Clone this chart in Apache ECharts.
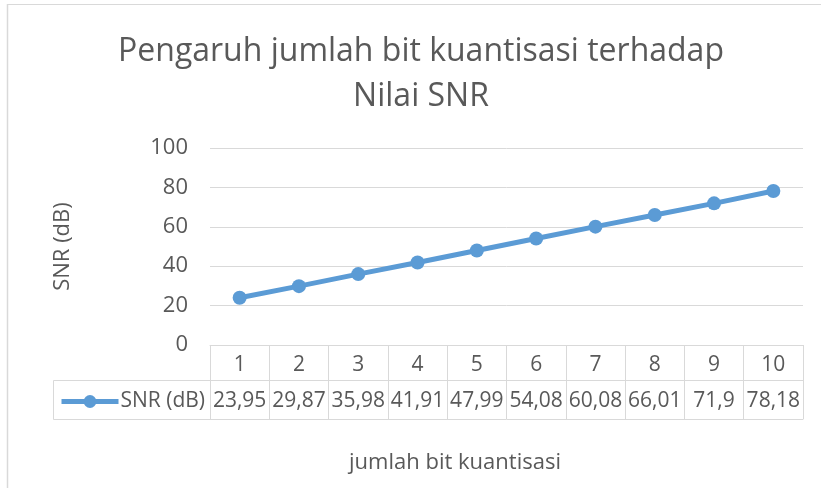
<!DOCTYPE html>
<html>
<head>
<meta charset="utf-8">
<script src="https://cdn.jsdelivr.net/npm/echarts@6/dist/echarts.min.js"></script>
<style>
html,body{margin:0;padding:0;background:#fff;}
#c{width:821px;height:488px;}
</style>
</head>
<body>
<div id="c"></div>
<script>
const categories = ['1','2','3','4','5','6','7','8','9','10'];
const snrValues = [23.95, 29.87, 35.98, 41.91, 47.99, 54.08, 60.08, 66.01, 71.9, 78.18];
const yTicks = [0, 20, 40, 60, 80, 100];
const seriesName = 'SNR (dB)';
const titleText = 'Pengaruh jumlah bit kuantisasi terhadap\nNilai SNR';
const xTitle = 'jumlah bit kuantisasi';
const yTitle = 'SNR (dB)';

const tableLabels = snrValues.map(v => String(v).replace('.', ','));
const FONT = '"Open Sans", sans-serif';
const TXT = '#595959';
const GRIDC = '#d9d9d9';
const BLUE = '#5b9bd5';

const chart = echarts.init(document.getElementById('c'));
chart.setOption({
  animation: false,
  backgroundColor: '#fff',
  textStyle: { fontFamily: FONT, color: TXT },
  title: [
    { text: titleText, left: 421, top: 29, padding: 0, textAlign: 'center',
      textStyle: { fontFamily: FONT, fontWeight: 'normal', fontSize: 32, color: TXT, lineHeight: 45 } },
    { text: xTitle, left: 455, top: 452, padding: 0, textAlign: 'center',
      textStyle: { fontFamily: FONT, fontWeight: 'normal', fontSize: 22, color: TXT } }
  ],
  legend: {
    left: 54, top: 386, itemWidth: 57, itemHeight: 16, itemGap: 0,
    lineStyle: { width: 5 },
    textStyle: { fontFamily: FONT, fontSize: 21, color: TXT, padding: [0,0,0,-3] },
    data: [seriesName]
  },
  grid: { left: 210, right: 18, top: 148, bottom: 143, containLabel: false },
  xAxis: [
    { type: 'category', data: categories, position: 'bottom', boundaryGap: true,
      axisLine: { show: true, lineStyle: { color: GRIDC, width: 1 } },
      axisTick: { show: true, length: 74, interval: 0, lineStyle: { color: GRIDC, width: 1 } },
      axisLabel: { fontFamily: FONT, fontSize: 21, color: TXT, margin: 10, interval: 0 }
    },
    { type: 'category', data: tableLabels, position: 'bottom', offset: 35, boundaryGap: true,
      axisLine: { show: true, lineStyle: { color: GRIDC, width: 1 } },
      axisTick: { show: false },
      axisLabel: { fontFamily: FONT, fontSize: 21, color: TXT, margin: 11, interval: 0 }
    },
    { type: 'category', data: categories, position: 'bottom', offset: 74, boundaryGap: true,
      axisLine: { show: true, lineStyle: { color: GRIDC, width: 1 } },
      axisTick: { show: false },
      axisLabel: { show: false }
    }
  ],
  yAxis: {
    type: 'value', min: yTicks[0], max: yTicks[yTicks.length-1], interval: 20,
    name: yTitle, nameLocation: 'middle', nameGap: 136,
    nameTextStyle: { fontFamily: FONT, fontSize: 22, color: TXT },
    axisLine: { show: false }, axisTick: { show: false },
    axisLabel: { fontFamily: FONT, fontSize: 22, color: TXT, margin: 22 },
    splitLine: { lineStyle: { color: GRIDC, width: 1 } }
  },
  series: [{
    name: seriesName, type: 'line', data: snrValues, xAxisIndex: 0,
    symbol: 'circle', symbolSize: 14,
    lineStyle: { color: BLUE, width: 5 },
    itemStyle: { color: BLUE }
  }],
  graphic: [
    { type: 'line', shape: { x1: 7.5, y1: 4, x2: 7.5, y2: 488 }, style: { stroke: GRIDC, lineWidth: 1.5 } },
    { type: 'line', shape: { x1: 7, y1: 4.5, x2: 821, y2: 4.5 }, style: { stroke: GRIDC, lineWidth: 1 } },
    { type: 'line', shape: { x1: 53.5, y1: 380.5, x2: 210, y2: 380.5 }, style: { stroke: GRIDC, lineWidth: 1 } },
    { type: 'line', shape: { x1: 53.5, y1: 419.5, x2: 210, y2: 419.5 }, style: { stroke: GRIDC, lineWidth: 1 } },
    { type: 'line', shape: { x1: 53.5, y1: 380.5, x2: 53.5, y2: 419.5 }, style: { stroke: GRIDC, lineWidth: 1 } }
  ]
});
</script>
</body>
</html>
